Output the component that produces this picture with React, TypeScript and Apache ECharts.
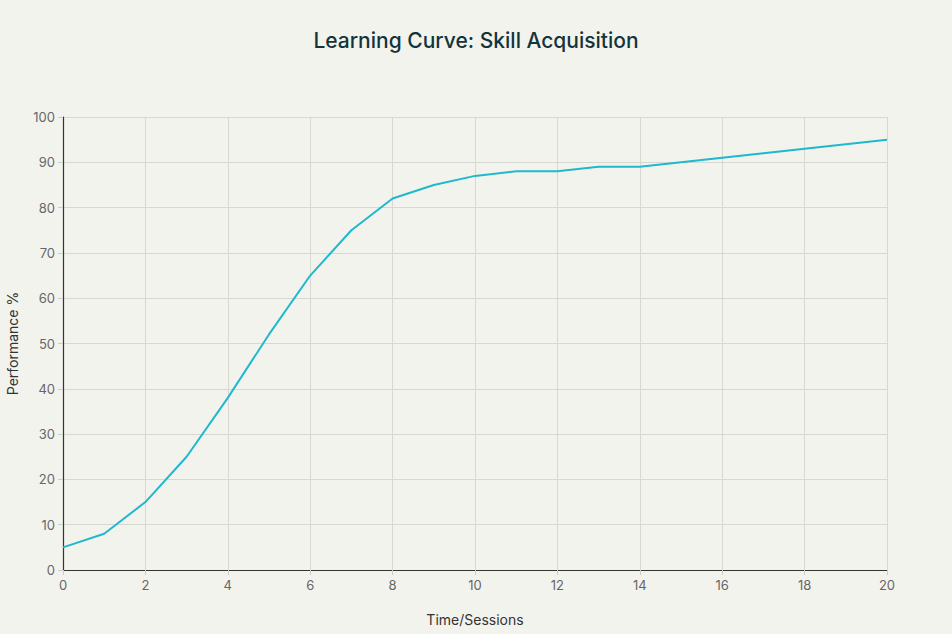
import React, { useEffect, useRef } from "react";
import * as echarts from "echarts";

const sessions = [0, 1, 2, 3, 4, 5, 6, 7, 8, 9, 10, 11, 12, 13, 14, 15, 16, 17, 18, 19, 20];
const performance = [5, 8, 15, 25, 38, 52, 65, 75, 82, 85, 87, 88, 88, 89, 89, 90, 91, 92, 93, 94, 95];

const titleText = "Learning Curve: Skill Acquisition";
const xName = "Time/Sessions";
const yName = "Performance %";

export default function App() {
  const ref = useRef<HTMLDivElement>(null);
  useEffect(() => {
    if (!ref.current) return;
    const chart = echarts.init(ref.current, undefined, { renderer: "svg" });
    const font = "Inter, 'Noto Sans', sans-serif";
    chart.setOption({
      animation: false,
      backgroundColor: "#f3f3ee",
      textStyle: { fontFamily: font },
      title: {
        text: titleText,
        left: "center",
        top: 25,
        textStyle: { fontSize: 21, fontWeight: 500, color: "#13343b", fontFamily: font },
      },
      grid: { left: 63, right: 65, top: 117, bottom: 64, containLabel: false, outerBoundsMode: "none" },
      xAxis: {
        type: "value",
        min: 0,
        max: 20,
        interval: 2,
        name: xName,
        nameLocation: "middle",
        nameGap: 42,
        nameTextStyle: { fontSize: 14, color: "#333", fontFamily: font },
        axisLine: { show: true, lineStyle: { color: "#333", width: 1.2 } },
        axisTick: { show: true, length: 5, lineStyle: { color: "#ccc" } },
        axisLabel: { fontSize: 13, color: "#666", margin: 8, fontFamily: font },
        splitLine: { show: true, lineStyle: { color: "#d8d8d2", width: 1 } },
      },
      yAxis: {
        type: "value",
        min: 0,
        max: 100,
        interval: 10,
        name: yName,
        nameLocation: "middle",
        nameGap: 44,
        nameRotate: 90,
        nameTextStyle: { fontSize: 14, color: "#333", fontFamily: font },
        axisLine: { show: true, lineStyle: { color: "#333", width: 1.2 } },
        axisTick: { show: true, length: 5, lineStyle: { color: "#ccc" } },
        axisLabel: { fontSize: 13, color: "#666", margin: 8, fontFamily: font },
        splitLine: { show: true, lineStyle: { color: "#d8d8d2", width: 1 } },
      },
      series: [
        {
          type: "line",
          data: sessions.map((s, i) => [s, performance[i]]),
          showSymbol: false,
          lineStyle: { color: "#1fb8cd", width: 2 },
          itemStyle: { color: "#1fb8cd" },
        },
      ],
    });
    return () => chart.dispose();
  }, []);
  return <div ref={ref} style={{ width: 952, height: 634, position: "absolute", left: 0, top: 0 }} />;
}
